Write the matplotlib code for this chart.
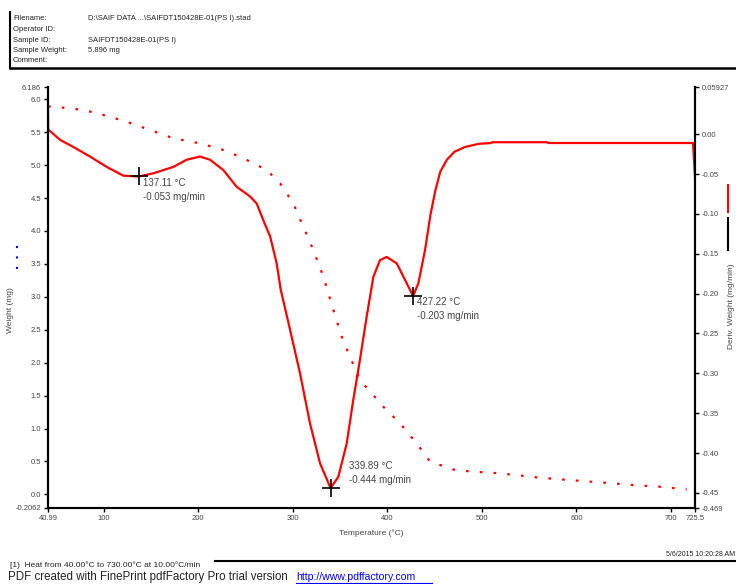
import matplotlib
matplotlib.use("Agg")
import matplotlib.pyplot as plt
from matplotlib.lines import Line2D

plt.rcParams["font.family"] = ["Liberation Sans", "DejaVu Sans"]

# derivative weight (mg/min) vs temperature
deriv_t = [40.99, 41.2, 53.7, 67.8, 85.4, 103.1, 120.7, 137.11, 152.4, 173.6, 187.7,
           201.8, 212.4, 226.5, 240.6, 254.7, 261.8, 268.8, 275.9, 282.9, 287.2,
           297.0, 307.6, 318.2, 328.8, 339.89, 348.1, 357.0, 364.0, 371.0, 378.1,
           385.2, 392.2, 399.3, 409.9, 420.5, 427.22, 432.8, 439.9, 445.6, 450.9,
           456.0, 463.0, 471.0, 482.0, 497.0, 510.0, 511.0, 569.0, 570.0, 723.4, 725.5]
deriv_v = [0.034, 0.006, -0.007, -0.016, -0.028, -0.041, -0.052, -0.053, -0.049, -0.041, -0.032,
           -0.028, -0.032, -0.045, -0.066, -0.078, -0.087, -0.108, -0.128, -0.162, -0.195,
           -0.245, -0.300, -0.363, -0.413, -0.444, -0.430, -0.388, -0.333, -0.283, -0.229,
           -0.179, -0.158, -0.154, -0.162, -0.187, -0.203, -0.187, -0.145, -0.101, -0.070,
           -0.047, -0.032, -0.022, -0.016, -0.012, -0.011, -0.010, -0.010, -0.011, -0.011, -0.054]

# weight (mg) vs temperature
weight_t = [40.99, 48.4, 78.3, 96.0, 124.3, 148.9, 173.6, 201.8, 230.0, 251.2, 272.4, 286.5,
            300.5, 311.1, 321.7, 332.3, 342.9, 351.7, 360.5, 371.0, 383.4, 395.7, 413.4,
            431.0, 445.2, 466.3, 471.6, 491.0, 519.2, 558.0, 582.6, 610.8, 639.0, 660.2,
            688.5, 716.7]
weight_v = [5.89, 5.887, 5.837, 5.776, 5.659, 5.533, 5.407, 5.331, 5.216, 5.078, 4.926, 4.724,
            4.420, 4.065, 3.711, 3.306, 2.800, 2.395, 2.091, 1.737, 1.535, 1.332, 1.079,
            0.775, 0.498, 0.396, 0.371, 0.346, 0.320, 0.259, 0.229, 0.198, 0.168, 0.142,
            0.117, 0.076]

peak_t = [137.11, 339.89, 427.22]
peak_v = [-0.053, -0.444, -0.203]

x_ticks = [40.99, 100, 200, 300, 400, 500, 600, 700, 725.5]
x_labels = ["40.99", "100", "200", "300", "400", "500", "600", "700", "725.5"]
w_ticks = [6.186, 6.0, 5.5, 5.0, 4.5, 4.0, 3.5, 3.0, 2.5, 2.0, 1.5, 1.0, 0.5, 0.0, -0.2062]
w_labels = ["6.186", "6.0", "5.5", "5.0", "4.5", "4.0", "3.5", "3.0", "2.5", "2.0",
            "1.5", "1.0", "0.5", "0.0", "-0.2062"]
d_ticks = [0.05927, 0.0, -0.05, -0.10, -0.15, -0.20, -0.25, -0.30, -0.35, -0.40, -0.45, -0.469]
d_labels = ["0.05927", "0.00", "-0.05", "-0.10", "-0.15", "-0.20", "-0.25", "-0.30",
            "-0.35", "-0.40", "-0.45", "-0.469"]

RED = "#ff0000"
GREY = "#444444"

fig = plt.figure(figsize=(7.36, 5.84), dpi=100)
ax = fig.add_axes([48 / 736, 1 - 508 / 584, 647 / 736, 421 / 584])
ax2 = ax.twinx()

ax.plot(weight_t, weight_v, color=RED, lw=1.6, ls=(0, (1.2, 5)))
ax2.plot(deriv_t, deriv_v, color=RED, lw=1.6)
ax2.plot(peak_t, peak_v, ls="none", marker="+", color="black", ms=13, mew=1.2)

# the deepest peak has its label above and to the right
offsets = [(3, -1, "top"), (13, 2, "bottom"), (3, -1, "top")]
for t, v, (dx, dy, va) in zip(peak_t, peak_v, offsets):
    ax2.annotate(f"{t:.2f} °C\n{v:.3f} mg/min", (t, v), xytext=(dx, dy),
                 textcoords="offset points", ha="left", va=va,
                 fontsize=7, color=GREY, linespacing=1.5)

ax.set_xlim(40.99, 725.5)
ax.set_ylim(-0.2062, 6.186)
ax2.set_ylim(-0.469, 0.05927)

ax.set_xticks(x_ticks, x_labels)
ax.set_yticks(w_ticks, w_labels)
ax2.set_yticks(d_ticks, d_labels)

for a in (ax, ax2):
    a.spines["top"].set_visible(False)
    for s in a.spines.values():
        s.set_linewidth(1.5)
    a.tick_params(labelsize=5.5, labelcolor=GREY, length=3, width=1, direction="out", pad=2)

ax.set_xlabel("Temperature (°C)", fontsize=6, color=GREY, labelpad=5)
ax.set_ylabel("Weight (mg)", fontsize=6, color=GREY, labelpad=6)
ax.yaxis.set_label_coords(-0.053, 0.47)
ax2.set_ylabel("Deriv. Weight (mg/min)", fontsize=6, color=GREY, rotation=90, labelpad=6)
ax2.yaxis.set_label_coords(1.051, 0.48)

# legend samples next to the axis titles
fig.add_artist(Line2D([17 / 736, 17 / 736], [1 - 246 / 584, 1 - 270 / 584],
                      color="blue", lw=1.5, ls=(0, (1, 4))))
fig.add_artist(Line2D([728 / 736, 728 / 736], [1 - 185 / 584, 1 - 212 / 584],
                      color=RED, lw=1.5))
fig.add_artist(Line2D([728 / 736, 728 / 736], [1 - 218 / 584, 1 - 250 / 584],
                      color="black", lw=1.5))

# header block
fig.add_artist(Line2D([10 / 736, 10 / 736], [1 - 12 / 584, 1 - 68 / 584], color="black", lw=1.5))
fig.add_artist(Line2D([10 / 736, 1.0], [1 - 68 / 584, 1 - 68 / 584], color="black", lw=1.8))
keys = ["Filename:", "Operator ID:", "Sample ID:", "Sample Weight:", "Comment:"]
vals = ["D:\\SAIF DATA ...\\SAIFDT150428E-01(PS I).stad", "", "SAIFDT150428E-01(PS I)",
        "5.896 mg", ""]
for i, (k, v) in enumerate(zip(keys, vals)):
    y = 1 - (19 + i * 10.5) / 584
    fig.text(13 / 736, y, k, fontsize=5.5, va="center", color="#222222")
    fig.text(88 / 736, y, v, fontsize=5.5, va="center", color="#222222")

# footer
fig.text(735 / 736, 1 - 555 / 584, "5/6/2015 10:20:28 AM", fontsize=5, ha="right",
         va="center", color="#222222")
fig.text(10 / 736, 1 - 565 / 584, "[1)  Heat from 40.00°C to 730.00°C at 10.00°C/min",
         fontsize=6, va="center", color="#222222")
fig.add_artist(Line2D([215 / 736, 1.0], [1 - 561 / 584, 1 - 561 / 584], color="black", lw=1.5))
fig.text(8 / 736, 1 - 577 / 584, "PDF created with FinePrint pdfFactory Pro trial version",
         fontsize=8.3, va="center", color="#222222")
fig.text(296 / 736, 1 - 577 / 584, "http://www.pdffactory.com", fontsize=7.6, va="center",
         color="blue", url="http://www.pdffactory.com")
fig.add_artist(Line2D([296 / 736, 432 / 736], [1 - 583 / 584, 1 - 583 / 584], color="blue", lw=0.8))

fig.savefig("out.png", dpi=100)
